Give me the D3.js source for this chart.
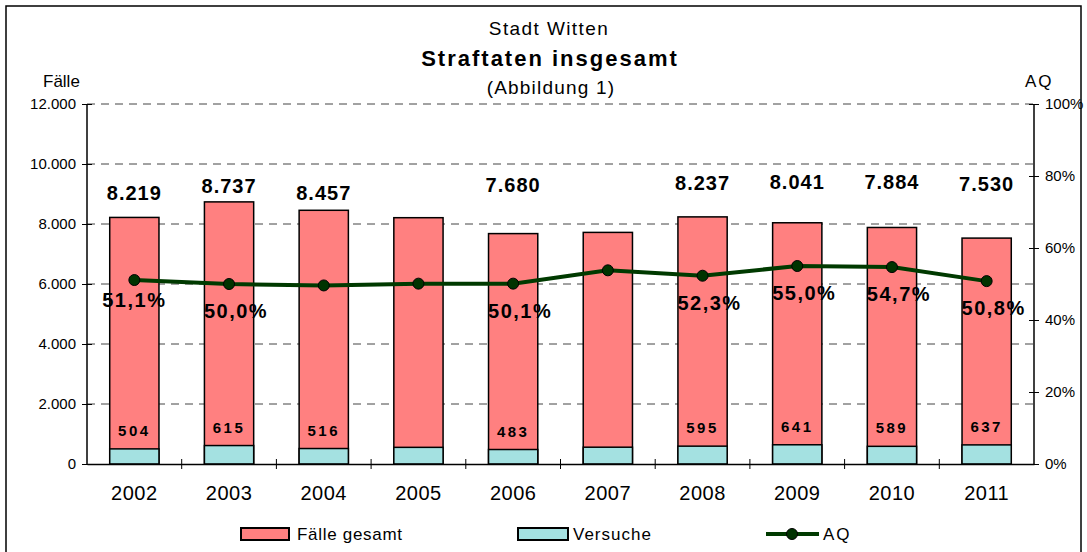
<!DOCTYPE html>
<html>
<head>
<meta charset="utf-8">
<script src="https://cdn.jsdelivr.net/npm/d3@7"></script>
<style>
  body { margin: 0; background: #fff; }
  text { font-family: "Liberation Sans", Arial, sans-serif; }
</style>
</head>
<body>
<svg id="chart" width="1087" height="552"></svg>
<script>
// data
var years = ["2002", "2003", "2004", "2005", "2006", "2007", "2008", "2009", "2010", "2011"];
var faelle = [8219, 8737, 8457, 8210, 7680, 7720, 8237, 8041, 7884, 7530];
var versuche = [504, 615, 516, 555, 483, 560, 595, 641, 589, 637];
var aq = [0.511, 0.500, 0.496, 0.501, 0.501, 0.538, 0.523, 0.550, 0.547, 0.508];
// which data labels the original shows
var showFaelle = [true, true, true, false, true, false, true, true, true, true];
var showVersuche = [true, true, true, false, true, false, true, true, true, true];
var showAq = [true, true, false, false, true, false, true, true, true, true];
var leftTicks = [0, 2000, 4000, 6000, 8000, 10000, 12000];
var rightTicks = [0, 0.2, 0.4, 0.6, 0.8, 1];

// label placement, pixels (hand placed in the original)
var faelleLabelY = [193, 186, 193, 0, 185, 0, 183, 182, 182, 184];

var de = d3.formatLocale({ decimal: ",", thousands: ".", grouping: [3], currency: ["", "€"] });
var fmtInt = de.format(",d");
var fmtPct = de.format(".1%");
var fmtPct0 = de.format(".0%");

var svg = d3.select("#chart");
var plotLeft = 87, plotRight = 1034, plotTop = 104, plotBottom = 464;
var idx = d3.range(years.length);

// outer frame
svg.append("rect")
    .attr("x", 6).attr("y", 6)
    .attr("width", 1075).attr("height", 560)
    .attr("fill", "none").attr("stroke", "#000").attr("stroke-width", 1.5);

var x = d3.scaleBand().domain(years).range([plotLeft, plotRight]).padding(0);
var y = d3.scaleLinear().domain([0, 12000]).range([plotBottom, plotTop]);
var yR = d3.scaleLinear().domain([0, 1]).range([plotBottom, plotTop]);
var barW = x.bandwidth() * 0.52;
function cx(i) { return x(years[i]) + x.bandwidth() / 2; }

// titles
svg.append("text").attr("x", 549).attr("y", 35).attr("text-anchor", "middle")
    .style("font-size", "19px").style("letter-spacing", "1.4px").text("Stadt Witten");
svg.append("text").attr("x", 550).attr("y", 66).attr("text-anchor", "middle")
    .style("font-size", "22px").style("font-weight", "bold").style("letter-spacing", "2px")
    .text("Straftaten insgesamt");
svg.append("text").attr("x", 551).attr("y", 94).attr("text-anchor", "middle")
    .style("font-size", "19px").style("letter-spacing", "1.2px").text("(Abbildung 1)");
svg.append("text").attr("x", 43).attr("y", 87)
    .style("font-size", "17px").text("Fälle");
svg.append("text").attr("x", 1025).attr("y", 87)
    .style("font-size", "17px").style("letter-spacing", "2px").text("AQ");

// gridlines
svg.append("g").selectAll("line")
    .data(leftTicks.filter(function (d) { return d > 0; }))
    .enter().append("line")
    .attr("x1", plotLeft).attr("x2", plotRight)
    .attr("y1", function (d) { return y(d); })
    .attr("y2", function (d) { return y(d); })
    .attr("stroke", "#444").attr("stroke-width", 1)
    .attr("stroke-dasharray", "8,6");

// bars
var g = svg.append("g");
g.selectAll(".faelle")
    .data(idx)
    .enter().append("rect")
    .attr("class", "faelle")
    .attr("x", function (i) { return cx(i) - barW / 2; })
    .attr("y", function (i) { return y(faelle[i]); })
    .attr("width", barW)
    .attr("height", function (i) { return plotBottom - y(faelle[i]); })
    .attr("fill", "#ff8080").attr("stroke", "#000").attr("stroke-width", 1.5);

g.selectAll(".versuche")
    .data(idx)
    .enter().append("rect")
    .attr("class", "versuche")
    .attr("x", function (i) { return cx(i) - barW / 2; })
    .attr("y", function (i) { return y(versuche[i]); })
    .attr("width", barW)
    .attr("height", function (i) { return plotBottom - y(versuche[i]); })
    .attr("fill", "#a4e1e1").attr("stroke", "#000").attr("stroke-width", 1.5);

// axes
var axL = svg.append("g")
    .attr("transform", "translate(" + plotLeft + ",0)")
    .call(d3.axisLeft(y).tickValues(leftTicks).tickFormat(fmtInt).tickSize(5).tickPadding(6));
var axR = svg.append("g")
    .attr("transform", "translate(" + plotRight + ",0)")
    .call(d3.axisRight(yR).tickValues(rightTicks).tickFormat(fmtPct0).tickSize(5).tickPadding(6));
[axL, axR].forEach(function (ax, k) {
    ax.select(".domain").attr("stroke-width", 1.5).attr("d", "M0," + plotTop + "V" + plotBottom);
    ax.selectAll(".tick line").attr("stroke-width", 1);
    ax.selectAll(".tick").append("line")
        .attr("x2", k === 0 ? 5 : -5).attr("stroke", "#000");
    ax.selectAll("text").style("font-size", "15px").style("font-family", "Liberation Sans, Arial, sans-serif")
        .attr("fill", "#000");
});

var axB = svg.append("g")
    .attr("transform", "translate(0," + plotBottom + ")")
    .call(d3.axisBottom(x).tickSize(0).tickPadding(22));
axB.select(".domain").attr("stroke-width", 1.5);
axB.selectAll("text").style("font-size", "20px").style("letter-spacing", "0.5px")
    .style("font-family", "Liberation Sans, Arial, sans-serif")
    .attr("fill", "#000");
axB.selectAll(".bound")
    .data(years.slice(1))
    .enter().append("line")
    .attr("class", "bound")
    .attr("x1", function (d) { return x(d); }).attr("x2", function (d) { return x(d); })
    .attr("y1", -5).attr("y2", 5)
    .attr("stroke", "#000");

// AQ line
var line = d3.line()
    .x(function (i) { return cx(i); })
    .y(function (i) { return yR(aq[i]); });
svg.append("path")
    .datum(idx)
    .attr("d", line)
    .attr("fill", "none").attr("stroke", "#003a00").attr("stroke-width", 4);
svg.selectAll(".dot")
    .data(idx)
    .enter().append("circle")
    .attr("class", "dot")
    .attr("cx", function (i) { return cx(i); })
    .attr("cy", function (i) { return yR(aq[i]); })
    .attr("r", 5.5)
    .attr("fill", "#003300").attr("stroke", "#000").attr("stroke-width", 1);

// labels
svg.selectAll(".lblF")
    .data(idx.filter(function (i) { return showFaelle[i]; }))
    .enter().append("text")
    .attr("class", "lblF")
    .attr("x", function (i) { return cx(i); })
    .attr("y", function (i) { return faelleLabelY[i] + 7; })
    .attr("text-anchor", "middle")
    .style("font-size", "20px").style("font-weight", "bold").style("letter-spacing", "1px")
    .text(function (i) { return fmtInt(faelle[i]); });

svg.selectAll(".lblV")
    .data(idx.filter(function (i) { return showVersuche[i]; }))
    .enter().append("text")
    .attr("class", "lblV")
    .attr("x", function (i) { return cx(i); })
    .attr("y", function (i) { return y(versuche[i]) - 13; })
    .attr("text-anchor", "middle")
    .style("font-size", "15px").style("font-weight", "bold").style("letter-spacing", "2.5px")
    .text(function (i) { return versuche[i]; });

svg.selectAll(".lblA")
    .data(idx.filter(function (i) { return showAq[i]; }))
    .enter().append("text")
    .attr("class", "lblA")
    .attr("x", function (i) { return cx(i) + (i === 0 ? 0 : 7); })
    .attr("y", function (i) { return yR(aq[i]) + (i === 0 ? 27 : 34); })
    .attr("text-anchor", "middle")
    .style("font-size", "20px").style("font-weight", "bold").style("letter-spacing", "1.5px")
    .text(function (i) { return fmtPct(aq[i]); });

// legend
var lg = svg.append("g").attr("transform", "translate(0,534)");
lg.append("rect").attr("x", 241).attr("y", -6).attr("width", 48).attr("height", 12)
    .attr("fill", "#ff8080").attr("stroke", "#000").attr("stroke-width", 2);
lg.append("text").attr("x", 297).attr("y", 6).style("font-size", "17px").style("letter-spacing", "0.7px")
    .text("Fälle gesamt");
lg.append("rect").attr("x", 518).attr("y", -6).attr("width", 50).attr("height", 12)
    .attr("fill", "#a4e1e1").attr("stroke", "#000").attr("stroke-width", 2);
lg.append("text").attr("x", 573).attr("y", 6).style("font-size", "17px").style("letter-spacing", "1px")
    .text("Versuche");
lg.append("line").attr("x1", 766).attr("x2", 819).attr("y1", 0).attr("y2", 0)
    .attr("stroke", "#003a00").attr("stroke-width", 4);
lg.append("circle").attr("cx", 792).attr("cy", 0).attr("r", 5.5)
    .attr("fill", "#003300").attr("stroke", "#000");
lg.append("text").attr("x", 823).attr("y", 6).style("font-size", "17px").style("letter-spacing", "2px").text("AQ");
</script>
</body>
</html>
